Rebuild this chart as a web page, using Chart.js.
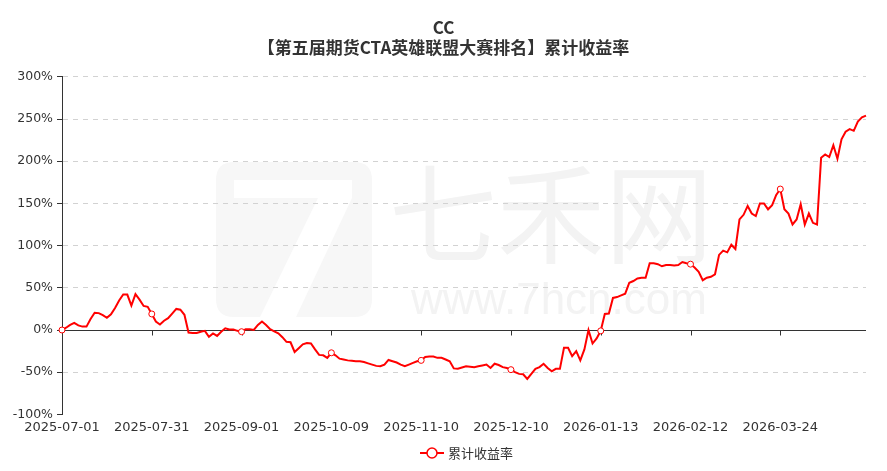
<!DOCTYPE html>
<html>
<head>
<meta charset="utf-8">
<script src="https://cdn.jsdelivr.net/npm/chart.js@4.4.1/dist/chart.umd.min.js"></script>
<style>
html,body{margin:0;padding:0;background:#fff;}
#wrap{width:887px;height:471px;position:relative;}
</style>
</head>
<body>
<div id="wrap"><canvas id="c" width="887" height="471"></canvas></div>
<script>
const chartTitle = ['CC', '【第五届期货CTA英雄联盟大赛排名】累计收益率'];
const seriesName = '累计收益率';
const watermarkTexts = ['七禾网', 'www.7hcn.com'];

const dates = [
'2025-07-01','2025-07-02','2025-07-03','2025-07-04','2025-07-07','2025-07-08','2025-07-09','2025-07-10','2025-07-11','2025-07-14',
'2025-07-15','2025-07-16','2025-07-17','2025-07-18','2025-07-21','2025-07-22','2025-07-23','2025-07-24','2025-07-25','2025-07-28',
'2025-07-29','2025-07-30','2025-07-31','2025-08-01','2025-08-04','2025-08-05','2025-08-06','2025-08-07','2025-08-08','2025-08-11',
'2025-08-12','2025-08-13','2025-08-14','2025-08-15','2025-08-18','2025-08-19','2025-08-20','2025-08-21','2025-08-22','2025-08-25',
'2025-08-26','2025-08-27','2025-08-28','2025-08-29','2025-09-01','2025-09-02','2025-09-03','2025-09-04','2025-09-05','2025-09-08',
'2025-09-09','2025-09-10','2025-09-11','2025-09-12','2025-09-15','2025-09-16','2025-09-17','2025-09-18','2025-09-19','2025-09-22',
'2025-09-23','2025-09-24','2025-09-25','2025-09-26','2025-09-29','2025-09-30','2025-10-09','2025-10-10','2025-10-13','2025-10-14',
'2025-10-15','2025-10-16','2025-10-17','2025-10-20','2025-10-21','2025-10-22','2025-10-23','2025-10-24','2025-10-27','2025-10-28',
'2025-10-29','2025-10-30','2025-10-31','2025-11-03','2025-11-04','2025-11-05','2025-11-06','2025-11-07','2025-11-10','2025-11-11',
'2025-11-12','2025-11-13','2025-11-14','2025-11-17','2025-11-18','2025-11-19','2025-11-20','2025-11-21','2025-11-24','2025-11-25',
'2025-11-26','2025-11-27','2025-11-28','2025-12-01','2025-12-02','2025-12-03','2025-12-04','2025-12-05','2025-12-08','2025-12-09',
'2025-12-10','2025-12-11','2025-12-12','2025-12-15','2025-12-16','2025-12-17','2025-12-18','2025-12-19','2025-12-22','2025-12-23',
'2025-12-24','2025-12-25','2025-12-26','2025-12-29','2025-12-30','2025-12-31','2026-01-05','2026-01-06','2026-01-07','2026-01-08',
'2026-01-09','2026-01-12','2026-01-13','2026-01-14','2026-01-15','2026-01-16','2026-01-19','2026-01-20','2026-01-21','2026-01-22',
'2026-01-23','2026-01-26','2026-01-27','2026-01-28','2026-01-29','2026-01-30','2026-02-02','2026-02-03','2026-02-04','2026-02-05',
'2026-02-06','2026-02-09','2026-02-10','2026-02-11','2026-02-12','2026-02-13','2026-02-24','2026-02-25','2026-02-26','2026-02-27',
'2026-03-02','2026-03-03','2026-03-04','2026-03-05','2026-03-06','2026-03-09','2026-03-10','2026-03-11','2026-03-12','2026-03-13',
'2026-03-16','2026-03-17','2026-03-18','2026-03-19','2026-03-20','2026-03-23','2026-03-24','2026-03-25','2026-03-26','2026-03-27',
'2026-03-30','2026-03-31','2026-04-01','2026-04-02','2026-04-03','2026-04-07','2026-04-08','2026-04-09','2026-04-10','2026-04-13',
'2026-04-14','2026-04-15','2026-04-16','2026-04-17','2026-04-20','2026-04-21','2026-04-22','2026-04-23'
];

const cumulativeReturn = [
0,2.7,6,8.5,5.5,4,4,13,20.5,20,
17.5,14.5,18.5,26,35,42,42,29,42.5,36,
28.5,27.5,19,10,6.5,11,14,19.5,25,24,
18,-3,-3.5,-3.5,-2,-1,-8,-4,-7,-2,
2,0.5,0.5,-1,-2,1,1,0,6,10,
6,1,-1.5,-4,-8.5,-14,-14.5,-26,-21.5,-17,
-15.5,-16,-23,-29.5,-30,-33,-27,-30,-34,-35,
-36,-36.5,-37,-37,-38,-39.5,-41,-42.5,-43,-41,
-35.5,-37,-38.5,-41,-43,-41,-39,-37,-36,-32,
-31.5,-31.5,-33,-33,-35,-37,-45.5,-46,-44.5,-43,
-43.5,-44,-43,-42,-41,-45,-40,-41.5,-44,-45,
-47,-50,-52,-52.5,-58,-52,-46,-44,-40,-45,
-49,-46,-46,-21,-21,-31,-25,-36,-23,0,
-16,-10,-1,19,19.5,38,39,41,43,56,
58,61,62,62,79,79,78,75.5,77,77,
76.5,77,80.5,79,78,74,69,59,62,63,
66,89,94,92,101,96,131,136.5,147,138,
135,150,150,143,148,160,167,143,138,125,
131,149,125,138,127,125,204,208,205,219,
203,226,235,238,236,247,252,254
];

const yTickValues = [-100, -50, 0, 50, 100, 150, 200, 250, 300];
const labelEvery = 22;

const LINE_COLOR = '#ff0000';
const TEXT_COLOR = '#333333';
const LATIN_FONT = "'DejaVu Sans', 'Noto Sans CJK SC', sans-serif";
const CJK_FONT = "'Noto Sans CJK SC', 'DejaVu Sans', sans-serif";

const watermarkPlugin = {
  id: 'watermark',
  beforeDraw(chart) {
    const ctx = chart.ctx;
    ctx.save();
    ctx.fillStyle = '#f7f7f7';
    const lx = 216, ly = 162, lw = 156, lh = 155, r = 18;
    ctx.beginPath();
    ctx.moveTo(lx + r, ly);
    ctx.lineTo(lx + lw - r, ly);
    ctx.quadraticCurveTo(lx + lw, ly, lx + lw, ly + r);
    ctx.lineTo(lx + lw, ly + lh - r);
    ctx.quadraticCurveTo(lx + lw, ly + lh, lx + lw - r, ly + lh);
    ctx.lineTo(lx + r, ly + lh);
    ctx.quadraticCurveTo(lx, ly + lh, lx, ly + lh - r);
    ctx.lineTo(lx, ly + r);
    ctx.quadraticCurveTo(lx, ly, lx + r, ly);
    ctx.fill();
    ctx.fillStyle = '#ffffff';
    ctx.beginPath();
    ctx.moveTo(234, 180); ctx.lineTo(352, 180); ctx.lineTo(352, 198);
    ctx.lineTo(296, 317); ctx.lineTo(260, 317); ctx.lineTo(318, 198);
    ctx.lineTo(234, 198); ctx.closePath();
    ctx.fill();
    ctx.fillStyle = '#f3f3f3';
    ctx.textAlign = 'center';
    ctx.textBaseline = 'middle';
    ctx.font = "108px 'Noto Sans CJK SC'";
    ctx.fillText(watermarkTexts[0], 551, 214);
    ctx.font = "44px 'Liberation Sans'";
    ctx.fillText(watermarkTexts[1], 559, 302);
    ctx.restore();
  }
};

const zeroAxisPlugin = {
  id: 'zeroAxis',
  beforeDatasetsDraw(chart) {
    const { ctx, chartArea: a, scales } = chart;
    const x = scales.x, y = scales.y;
    const y0 = Math.round(y.getPixelForValue(0)) + 0.5;
    ctx.save();
    ctx.strokeStyle = TEXT_COLOR;
    ctx.lineWidth = 1;
    ctx.beginPath();
    ctx.moveTo(a.left, y0);
    ctx.lineTo(a.right, y0);
    for (let i = labelEvery; i < dates.length; i += labelEvery) {
      const px = Math.round(x.getPixelForValue(i)) + 0.5;
      ctx.moveTo(px, y0);
      ctx.lineTo(px, y0 + 5);
    }
    ctx.stroke();
    ctx.restore();
  }
};

const legendPlugin = {
  id: 'bottomLegend',
  afterDraw(chart) {
    const ctx = chart.ctx;
    const ds = chart.data.datasets[0];
    const cy = 453, x0 = 420;
    ctx.save();
    ctx.strokeStyle = ds.borderColor;
    ctx.lineWidth = 2;
    ctx.beginPath();
    ctx.moveTo(x0, cy); ctx.lineTo(x0 + 24, cy);
    ctx.stroke();
    ctx.beginPath();
    ctx.arc(x0 + 12, cy, 5, 0, Math.PI * 2);
    ctx.fillStyle = '#fff';
    ctx.fill();
    ctx.lineWidth = 1.5;
    ctx.stroke();
    ctx.fillStyle = TEXT_COLOR;
    ctx.font = "13px " + CJK_FONT;
    ctx.textAlign = 'left';
    ctx.textBaseline = 'middle';
    ctx.fillText(ds.label, x0 + 28, cy);
    ctx.restore();
  }
};

new Chart(document.getElementById('c'), {
  type: 'line',
  data: {
    labels: dates,
    datasets: [{
      label: seriesName,
      data: cumulativeReturn,
      borderColor: LINE_COLOR,
      backgroundColor: '#ffffff',
      borderWidth: 2,
      tension: 0,
      fill: false,
      pointRadius: (c) => (c.index % labelEvery === 0 ? 3 : 0),
      pointHoverRadius: (c) => (c.index % labelEvery === 0 ? 3 : 0),
      pointBackgroundColor: '#ffffff',
      pointBorderColor: LINE_COLOR,
      pointBorderWidth: 1,
      yAxisID: 'y'
    }]
  },
  options: {
    responsive: false,
    animation: false,
    devicePixelRatio: 1,
    layout: { padding: { left: 0, right: 0, top: 0, bottom: 31 } },
    plugins: {
      legend: { display: false },
      tooltip: { enabled: false },
      title: {
        display: true,
        text: chartTitle,
        color: TEXT_COLOR,
        font: { family: CJK_FONT, size: 17, weight: 'bold', lineHeight: 1.2 },
        padding: { top: 17, bottom: 19 }
      }
    },
    scales: {
      x: {
        type: 'category',
        offset: false,
        grid: { display: false, drawTicks: false },
        border: { display: false },
        ticks: {
          autoSkip: false,
          maxRotation: 0,
          minRotation: 0,
          padding: 5,
          color: TEXT_COLOR,
          font: { family: LATIN_FONT, size: 13 },
          callback: (v, i) => (i % labelEvery === 0 ? dates[i] : null)
        }
      },
      y: {
        position: 'left',
        min: yTickValues[0],
        max: yTickValues[yTickValues.length - 1],
        afterBuildTicks: (s) => { s.ticks = yTickValues.map(v => ({ value: v })); },
        afterFit: (s) => { s.width = 62; },
        grid: {
          color: (c) => (c.tick && (c.tick.value === 0 || c.tick.value === -100) ? 'rgba(0,0,0,0)' : '#d2d2d2'),
          lineWidth: 1,
          drawTicks: true,
          tickLength: 5,
          tickColor: TEXT_COLOR,
          tickBorderDash: []
        },
        border: { display: true, color: TEXT_COLOR, width: 1, dash: [5, 5] },
        ticks: {
          padding: 4,
          color: TEXT_COLOR,
          font: { family: LATIN_FONT, size: 12.5 },
          callback: (v) => v + '%'
        }
      },
      yR: {
        position: 'right',
        display: true,
        grid: { display: false, drawTicks: false },
        border: { display: false },
        ticks: { display: false },
        afterFit: (s) => { s.width = 21; }
      }
    }
  },
  plugins: [watermarkPlugin, zeroAxisPlugin, legendPlugin]
});
</script>
</body>
</html>
